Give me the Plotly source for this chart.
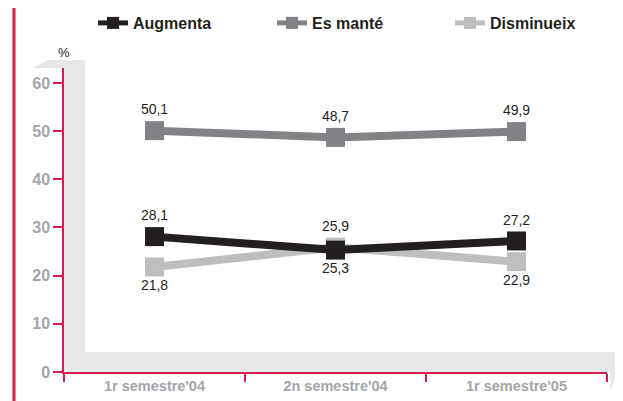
import plotly.graph_objects as go

categories = ["1r semestre'04", "2n semestre'04", "1r semestre'05"]
augmenta = [28.1, 25.3, 27.2]
es_mante = [50.1, 48.7, 49.9]
disminueix = [21.8, 25.9, 22.9]
series_names = ["Augmenta", "Es manté", "Disminueix"]
y_ticks = [0, 10, 20, 30, 40, 50, 60]

RED = "#d81b4c"
TICKGRAY = "#a3a5a8"
WALL = "#e6e7e8"
COLORS = ["#231f20", "#808285", "#bcbec0"]

# the page places the figure 8px in from the top-left corner
OFF = 8
W, H = 623 - OFF, 401 - OFF
L, R, T, B = 64 - OFF, 16, 68 - OFF, 29
PW, PH = W - L - R, H - T - B


def px(x):  # page pixel -> paper x
    return (x - OFF - L) / PW


def py(y):  # page pixel -> paper y
    return (H - B - (y - OFF)) / PH


def fmt(v):
    return f"{v:.1f}".replace(".", ",")


label_pos = {
    "Augmenta": ["top center", "bottom center", "top center"],
    "Es manté": ["top center", "top center", "top center"],
    "Disminueix": ["bottom center", "top center", "bottom center"],
}
data = {"Augmenta": augmenta, "Es manté": es_mante, "Disminueix": disminueix}
legend_ids = {"Augmenta": "legend", "Es manté": "legend2", "Disminueix": "legend3"}
legend_x = {"legend": 93, "legend2": 272, "legend3": 450}

fig = go.Figure()
for name, color in reversed(list(zip(series_names, COLORS))):
    vals = data[name]
    fig.add_trace(go.Scatter(
        x=categories, y=vals, name=name,
        mode="lines+markers+text",
        line=dict(color=color, width=8),
        marker=dict(symbol="square", size=19, color=color),
        text=[fmt(v) for v in vals],
        textposition=label_pos[name],
        textfont=dict(family="Liberation Sans, Arial, sans-serif", size=14, color="#231f20"),
        cliponaxis=False,
        hoverinfo="skip",
        legend=legend_ids[name],
    ))

wall = [(33, 68), (48, 60), (85, 60), (85, 352), (623, 352), (623, 358),
        (610, 392), (610, 372), (64, 372), (64, 68)]
path = "M " + " L ".join(f"{px(x):.5f},{py(y):.5f}" for x, y in wall) + " Z"
shapes = [
    dict(type="path", path=path, xref="paper", yref="paper",
         fillcolor=WALL, line=dict(width=0), layer="below"),
    dict(type="line", xref="paper", yref="paper", x0=px(64), y0=py(372), x1=px(85), y1=py(352),
         line=dict(color="#f2f2f3", width=1), layer="below"),
    dict(type="line", xref="paper", yref="paper", x0=px(14), y0=py(0), x1=px(14), y1=py(410),
         line=dict(color="#dc1e4b", width=3)),
]

legend_font = dict(family="Liberation Sans, Arial, sans-serif", size=16, color="#231f20", weight="bold")
legends = {}
for lid, xpage in legend_x.items():
    legends[lid] = dict(
        orientation="h", xref="container", x=(xpage - OFF) / W, xanchor="left",
        yref="container", y=1 - (23 - OFF) / H, yanchor="middle",
        font=legend_font, itemsizing="constant", bgcolor="rgba(0,0,0,0)",
    )

fig.update_layout(
    width=W, height=H,
    margin=dict(l=L, r=R, t=T, b=B, autoexpand=False),
    paper_bgcolor="white", plot_bgcolor="rgba(0,0,0,0)",
    shapes=shapes,
    showlegend=True,
    annotations=[dict(text="%", xref="paper", yref="paper", x=px(64), y=py(52),
                      xanchor="center", yanchor="middle",
                      showarrow=False, font=dict(family="Liberation Sans, Arial, sans-serif",
                                                  size=13, color="#231f20"))],
    xaxis=dict(
        type="category", range=[-0.5, 2.5], tickson="boundaries",
        ticks="outside", ticklen=8, tickwidth=1.5, tickcolor=RED,
        showline=True, linecolor=RED, linewidth=1.5,
        showgrid=False, zeroline=False,
        tickfont=dict(family="Liberation Sans, Arial, sans-serif", size=14.5, color=TICKGRAY, weight="bold"),
    ),
    yaxis=dict(
        range=[0, 63.1], tickvals=y_ticks,
        ticks="outside", ticklen=9, tickwidth=1.5, tickcolor=RED,
        showline=True, linecolor=RED, linewidth=1.5,
        showgrid=False, zeroline=False,
        tickfont=dict(family="Liberation Sans, Arial, sans-serif", size=16, color=TICKGRAY, weight="bold"),
    ),
    **legends,
)

fig.write_html("out.html")
